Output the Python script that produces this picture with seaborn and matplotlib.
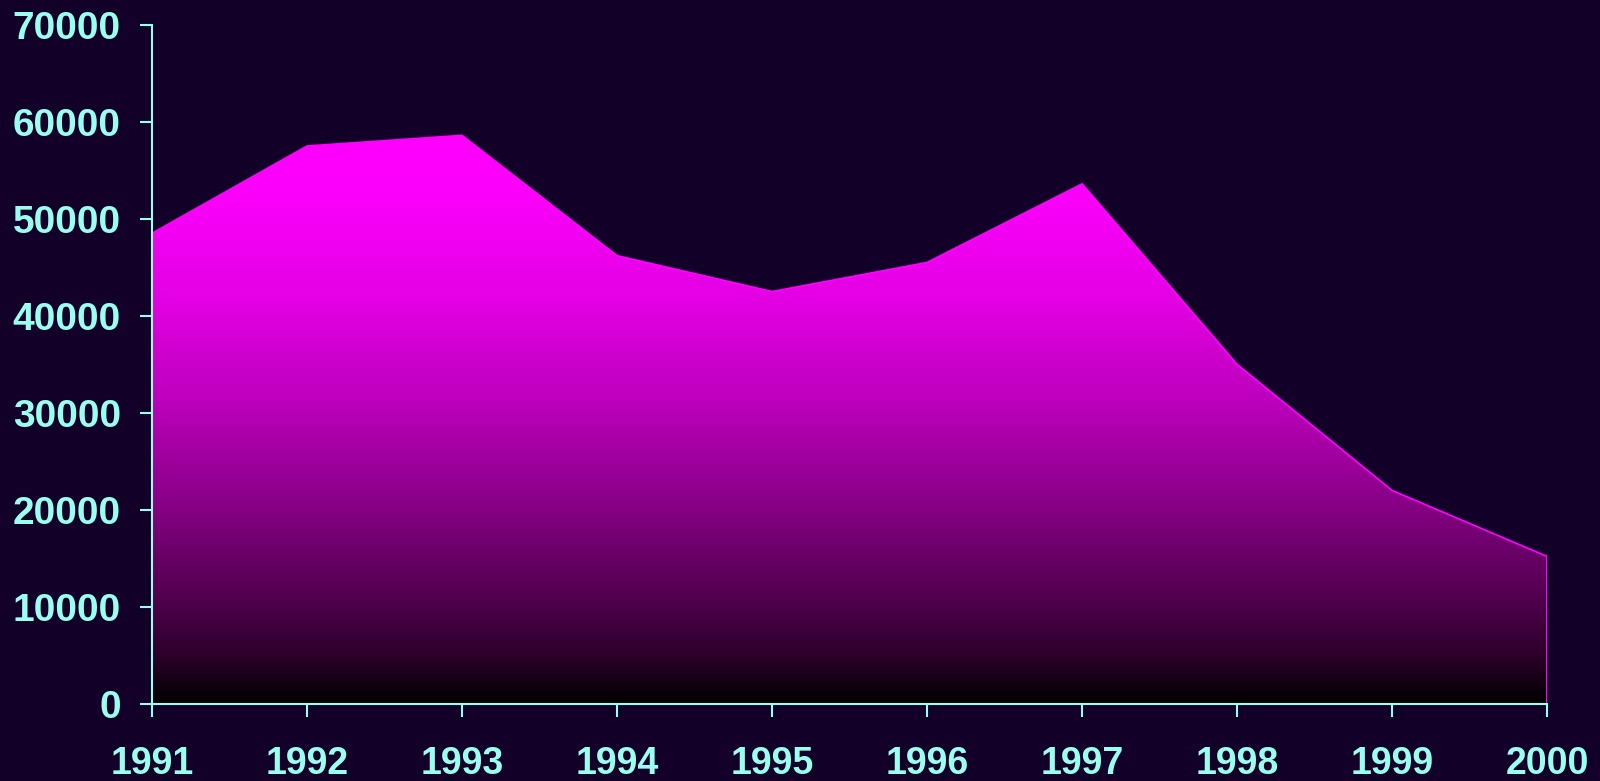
import numpy as np
import pandas as pd
import matplotlib
matplotlib.use("Agg")
import matplotlib.pyplot as plt
import seaborn as sns
from matplotlib.colors import LinearSegmentedColormap

years = [1991, 1992, 1993, 1994, 1995, 1996, 1997, 1998, 1999, 2000]
values = [48500, 57500, 58600, 46200, 42500, 45500, 53600, 35000, 22000, 15200]
y_ticks = [0, 10000, 20000, 30000, 40000, 50000, 60000, 70000]

bg = "#120028"
txt = "#99ffee"
magenta = "#ff00ff"

sns.set_style("dark")
plt.rcParams["font.family"] = ["Liberation Sans", "DejaVu Sans"]

df = pd.DataFrame({"year": years, "value": values})

fig = plt.figure(figsize=(16, 7.81), dpi=100, facecolor=bg)
ax = fig.add_axes([0.095, 0.0986, 0.872, 0.8698])
ax.set_facecolor(bg)

# area polygon, filled with a vertical gradient (black at 0 -> magenta at top)
poly = ax.fill_between(df["year"], df["value"], 0, color="none", lw=0)
cmap = LinearSegmentedColormap.from_list("grad", [
    (0.0, "#000000"), (0.08, "#2a0029"), (0.18, "#4f004c"),
    (0.36, "#8a0088"), (0.53, "#bb00bb"), (0.71, "#e300e3"),
    (0.89, "#fa00fa"), (1.0, magenta)])
grad = np.linspace(0, 1, 256).reshape(-1, 1)
img = ax.imshow(grad, cmap=cmap, aspect="auto", origin="lower",
                extent=[years[0], years[-1], 0, 58600], zorder=2)
path = poly.get_paths()[0]
img.set_clip_path(path, transform=ax.transData)

sns.lineplot(data=df, x="year", y="value", color=magenta, lw=1.2, ax=ax, zorder=3)
ax.plot([years[-1], years[-1]], [0, values[-1]], color=magenta, lw=1.5, zorder=3)

ax.set_xlim(years[0], years[-1])
ax.set_ylim(0, 70000)
ax.set_xticks(years)
ax.set_yticks(y_ticks)
ax.set_xticklabels([str(y) for y in years])
ax.set_yticklabels([str(v) for v in y_ticks])
ax.grid(False)
ax.set_xlabel("")
ax.set_ylabel("")

for s in ["top", "right"]:
    ax.spines[s].set_visible(False)
for s in ["left", "bottom"]:
    ax.spines[s].set_visible(True)
    ax.spines[s].set_color(txt)
    ax.spines[s].set_linewidth(1.5)
    ax.spines[s].set_zorder(4)

ax.tick_params(axis="both", colors=txt, labelcolor=txt, width=1.5, length=9,
               direction="out", labelsize=27, bottom=True, left=True)
ax.tick_params(axis="y", pad=13.5, labelsize=28)
ax.tick_params(axis="x", pad=21)
for lab in ax.get_xticklabels() + ax.get_yticklabels():
    lab.set_fontweight("bold")

fig.savefig("out.png", dpi=100, facecolor=bg)
